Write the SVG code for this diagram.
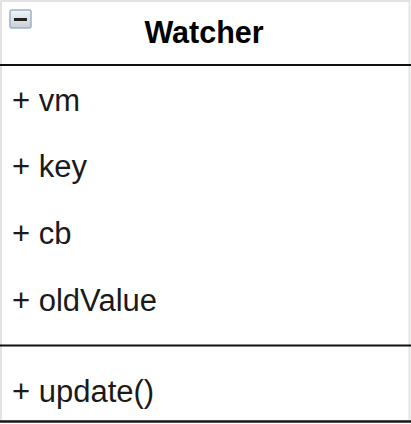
<svg xmlns="http://www.w3.org/2000/svg" width="411" height="424" viewBox="0 0 411 424">
  <defs>
    <linearGradient id="btnFill" x1="0" y1="0" x2="0" y2="1">
      <stop offset="0" stop-color="#f2f4f7"/>
      <stop offset="1" stop-color="#c9ced6"/>
    </linearGradient>
  </defs>
  <style>
    .title { font-family: "Liberation Sans", Arial, sans-serif; font-size: 30.5px; font-weight: bold; fill: #000; }
    .member { font-family: "Liberation Sans", Arial, sans-serif; font-size: 31px; fill: #1a1a1a; }
    .sep { stroke: #111; stroke-width: 2; }
    .edge { stroke: #e3e3e3; stroke-width: 2; fill: none; }
  </style>
  <rect width="411" height="424" fill="#fff"/>
  <g id="watcher">
    <!-- outer frame -->
    <rect class="edge" x="1" y="1" width="408.5" height="420"/>
    <line x1="0" y1="421.5" x2="411" y2="421.5" stroke="#1a1a1a" stroke-width="2.5"/>
    <!-- collapse toggle -->
    <g id="toggle">
      <rect x="10" y="10" width="21" height="18" rx="2" fill="url(#btnFill)" stroke="#9fb0c8" stroke-width="1.5"/>
      <rect x="14" y="18" width="13" height="3" fill="#222"/>
    </g>
    <text class="title" x="204" y="43" text-anchor="middle">Watcher</text>
    <line class="sep" x1="0" y1="65" x2="411" y2="65"/>
    <g id="attributes">
      <text class="member" x="12" y="110.5">+ vm</text>
      <text class="member" x="12" y="177">+ key</text>
      <text class="member" x="12" y="244">+ cb</text>
      <text class="member" x="12" y="310.5">+ oldValue</text>
    </g>
    <line class="sep" x1="0" y1="345.5" x2="411" y2="345.5"/>
    <g id="operations">
      <text class="member" x="12" y="401.5">+ update()</text>
    </g>
  </g>
</svg>
